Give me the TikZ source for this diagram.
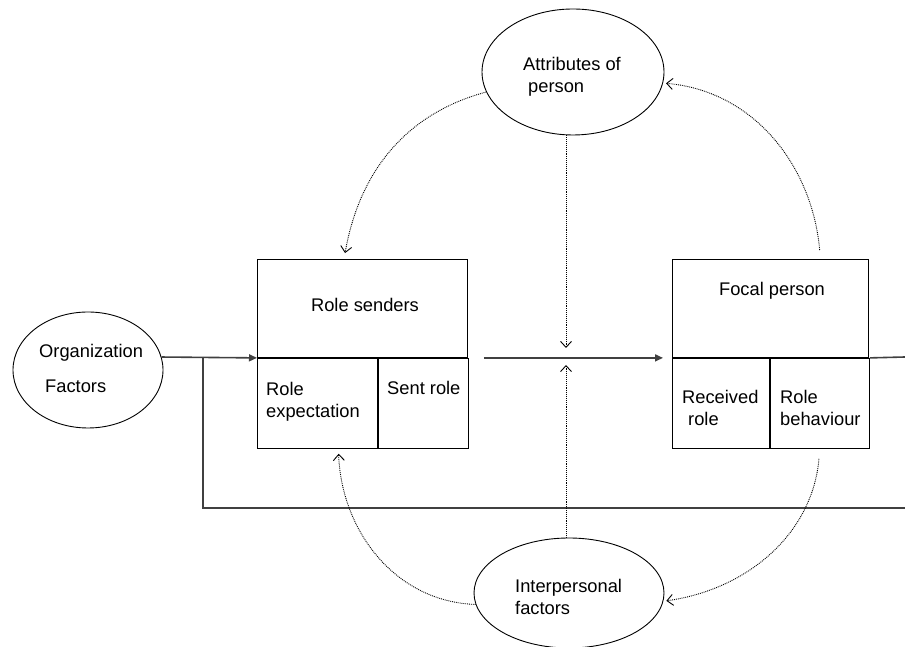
\documentclass[tikz,border=0pt]{standalone}
\usepackage{fontspec}
\setmainfont{Liberation Sans}
\usetikzlibrary{shapes.geometric, arrows.meta, positioning}

\begin{document}
\begin{tikzpicture}[
        x=1pt, y=1pt,
        >={Triangle[length=8pt, width=7pt]},
        every node/.style={font=\fontsize{18.3}{22}\selectfont},
        factor/.style={ellipse, draw, line width=0.9pt, inner sep=0pt},
        cell/.style={rectangle, draw, line width=0.9pt, inner sep=0pt, anchor=north west},
        txt/.style={inner sep=0pt, align=left},
        flow/.style={draw=black!75, line width=1.6pt},
        feedback/.style={draw=black, line width=0.9pt, densely dotted,
            -{Straight Barb[length=6pt, width=11pt, line width=0.9pt]}}]
        \useasboundingbox (0,0) rectangle (905,647);
        % Factors
        \node[factor, minimum width=150pt, minimum height=116pt] (org) at (88,277) {};
        \node[factor, minimum width=182pt, minimum height=126pt] (attr) at (573,575) {};
        \node[factor, minimum width=190pt, minimum height=110pt] (interp) at (569,54) {};
        % Boxes
        \node[cell, minimum width=210pt, minimum height=98pt] (rsend) at (257,388) {};
        \node[cell, minimum width=120pt, minimum height=90pt] (rexp) at (rsend.south west) {};
        \node[cell, minimum width=90pt, minimum height=90pt] (sent) at (rexp.north east) {};
        \node[cell, minimum width=196pt, minimum height=98pt] (focal) at (672,388) {};
        \node[cell, minimum width=97pt, minimum height=90pt] (recv) at (focal.south west) {};
        \node[cell, minimum width=99pt, minimum height=90pt] (beh) at (recv.north east) {};
        % Texts
        \node[txt, anchor=north west] (orgtxt) at (39,303.3) {Organization\\[13pt]\hspace*{6pt}Factors};
        \node[txt, anchor=north west] (attrtxt) at (523,590.3) {Attributes of\\\hspace*{5pt}person};
        \node[txt, anchor=north west] (interptxt) at (515,68.3) {Interpersonal\\factors};
        \node[txt, anchor=base] (rstxt) at (365,335) {Role senders};
        \node[txt, anchor=north west] (rexptxt) at (266,265.3) {Role\\expectation};
        \node[txt, anchor=base west] (senttxt) at (387,252) {Sent role};
        \node[txt, anchor=base] (focaltxt) at (772,351) {Focal person};
        \node[txt, anchor=north west] (recvtxt) at (682,257.3) {Received\\\hspace*{6pt}role};
        \node[txt, anchor=north west] (behtxt) at (780,257.3) {Role\\behaviour};
        % Free ends
        \coordinate (split) at (203,290);
        \coordinate (mid) at (566,290);
        \coordinate (rightend) at (905,290);
        \coordinate (loopend) at (905,139);
        % Edges
        \draw[flow, ->] (org.10) -- (rexp.north west);
        \draw[flow] (split) |- (loopend);
        \draw[flow, ->, shorten <=15pt, shorten >=9pt] (sent.north east) -- (recv.north west);
        \draw[flow] (beh.north east) -- (rightend);

        \draw[feedback] (mid |- attr.south) -- ([yshift=9pt]mid);
        \draw[feedback] (mid |- interp.north) -- ([yshift=-8pt]mid);

        \draw[feedback, shorten >=6pt] (attr.193) to[out=195, in=80] ([xshift=87pt]rsend.north west);
        \draw[feedback, shorten <=9pt, shorten >=3pt] ([xshift=50pt]focal.north) to[out=95, in=-5] (attr.-7);
        \draw[feedback, shorten <=10pt, shorten >=3pt] (beh.south) to[out=-95, in=8] (interp.-5);
        \draw[feedback, shorten >=5pt] (interp.187) to[out=178, in=-88] ([xshift=21pt]rexp.south);
      \end{tikzpicture}
\end{document}
